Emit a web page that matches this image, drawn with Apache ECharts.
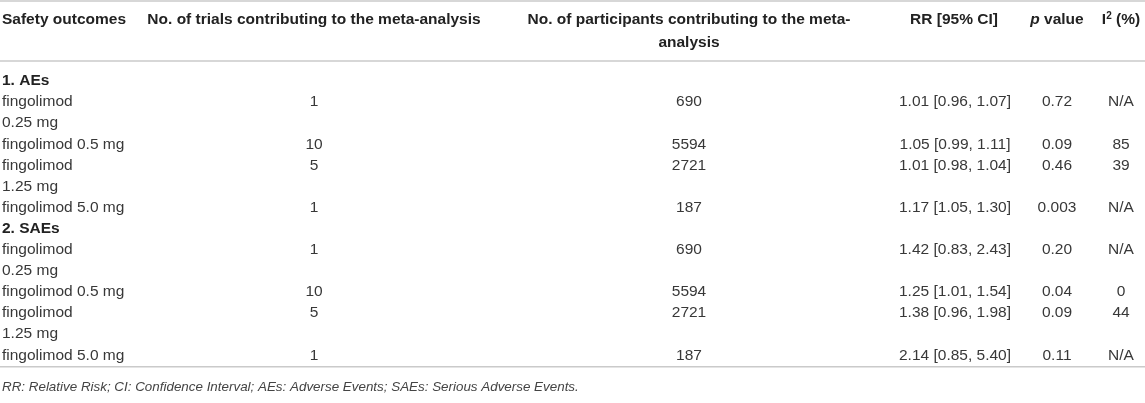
<!DOCTYPE html>
<html>
<head>
<meta charset="utf-8">
<script src="https://cdn.jsdelivr.net/npm/echarts@6/dist/echarts.min.js"></script>
<style>html,body{margin:0;padding:0;background:#fff}#c{width:1145px;height:403px}</style>
</head>
<body>
<div id="c"></div>
<script>
// ---- data ----
const headerLabels = ['Safety outcomes', 'No. of trials contributing to the meta-analysis', 'No. of participants contributing to the meta-\nanalysis', 'RR [95% CI]', 'p value', 'I2 (%)'];
const sections = ['1. AEs', '2. SAEs'];
const doses = ['fingolimod\n0.25 mg', 'fingolimod 0.5 mg', 'fingolimod\n1.25 mg', 'fingolimod 5.0 mg'];
const trialsAEs = [1, 10, 5, 1];
const trialsSAEs = [1, 10, 5, 1];
const participantsAEs = [690, 5594, 2721, 187];
const participantsSAEs = [690, 5594, 2721, 187];
const rrAEs = ['1.01 [0.96, 1.07]', '1.05 [0.99, 1.11]', '1.01 [0.98, 1.04]', '1.17 [1.05, 1.30]'];
const rrSAEs = ['1.42 [0.83, 2.43]', '1.25 [1.01, 1.54]', '1.38 [0.96, 1.98]', '2.14 [0.85, 5.40]'];
const pAEs = ['0.72', '0.09', '0.46', '0.003'];
const pSAEs = ['0.20', '0.04', '0.09', '0.11'];
const i2AEs = ['N/A', '85', '39', 'N/A'];
const i2SAEs = ['N/A', '0', '44', 'N/A'];
const footnote = 'RR: Relative Risk; CI: Confidence Interval; AEs: Adverse Events; SAEs: Serious Adverse Events.';

// ---- layout / style ----
const FONT = '"Liberation Sans", Arial, sans-serif';
const FS = 15.5;
const colX = [2, 314, 689, 955, 1057, 1121];
const headerY = 20, headerLine = 22.5;
const bodyY = 81, step = 21.1;
const ruleColor = '#cacaca';
const bodyColor = '#383838';
const headColor = '#222';

const els = [];
function txt(x, y, s, opt) {
  els.push({
    type: 'text', x: x, y: y, silent: true,
    style: Object.assign({
      text: s, font: FS + 'px ' + FONT, fill: bodyColor,
      textAlign: 'center', textVerticalAlign: 'middle'
    }, opt || {})
  });
}
function rule(y) {
  els.push({ type: 'line', silent: true, shape: { x1: 0, y1: y, x2: 1145, y2: y }, style: { stroke: ruleColor, lineWidth: 1.6 } });
}

// header
const bold = 'bold ' + FS + 'px ' + FONT;
rule(1);
txt(colX[0], headerY, headerLabels[0], { font: bold, fill: headColor, textAlign: 'left' });
txt(colX[1], headerY, headerLabels[1], { font: bold, fill: headColor });
headerLabels[2].split('\n').forEach((l, k) => txt(colX[2], headerY + k * headerLine, l, { font: bold, fill: headColor }));
txt(colX[3] - 1, headerY, headerLabels[3], { font: bold, fill: headColor });
els.push({ type: 'text', x: colX[4], y: headerY, silent: true, style: {
  text: '{i|p}{b| value}', textAlign: 'center', textVerticalAlign: 'middle',
  rich: { i: { font: 'italic bold ' + FS + 'px ' + FONT, fill: headColor }, b: { font: bold, fill: headColor } } } });
els.push({ type: 'text', x: colX[5], y: headerY, silent: true, style: {
  text: '{b|I}{s|2}{b| (%)}', textAlign: 'center', textVerticalAlign: 'middle',
  rich: { b: { font: bold, fill: headColor }, s: { font: 'bold 10px ' + FONT, fill: headColor, verticalAlign: 'top', padding: [0, 0, 8, 0] } } } });
rule(61);

// body
const groups = [
  [trialsAEs, participantsAEs, rrAEs, pAEs, i2AEs],
  [trialsSAEs, participantsSAEs, rrSAEs, pSAEs, i2SAEs]
];
let line = 0;
sections.forEach((sec, g) => {
  txt(colX[0], bodyY + line * step, sec, { font: bold, fill: headColor, textAlign: 'left' });
  line++;
  doses.forEach((d, r) => {
    const y = bodyY + line * step;
    const lines = d.split('\n');
    lines.forEach((l, k) => txt(colX[0], bodyY + (line + k) * step, l, { textAlign: 'left' }));
    groups[g].forEach((arr, c) => txt(colX[c + 1], y, String(arr[r])));
    line += lines.length;
  });
});
const lastY = bodyY + (line - 1) * step;
rule(lastY + 11.5);
txt(colX[0], lastY + 32, footnote, { font: 'italic 13.4px ' + FONT, fill: '#444', textAlign: 'left' });

const chart = echarts.init(document.getElementById('c'));
chart.setOption({ backgroundColor: '#fff', animation: false, graphic: { elements: els } });
</script>
</body>
</html>
